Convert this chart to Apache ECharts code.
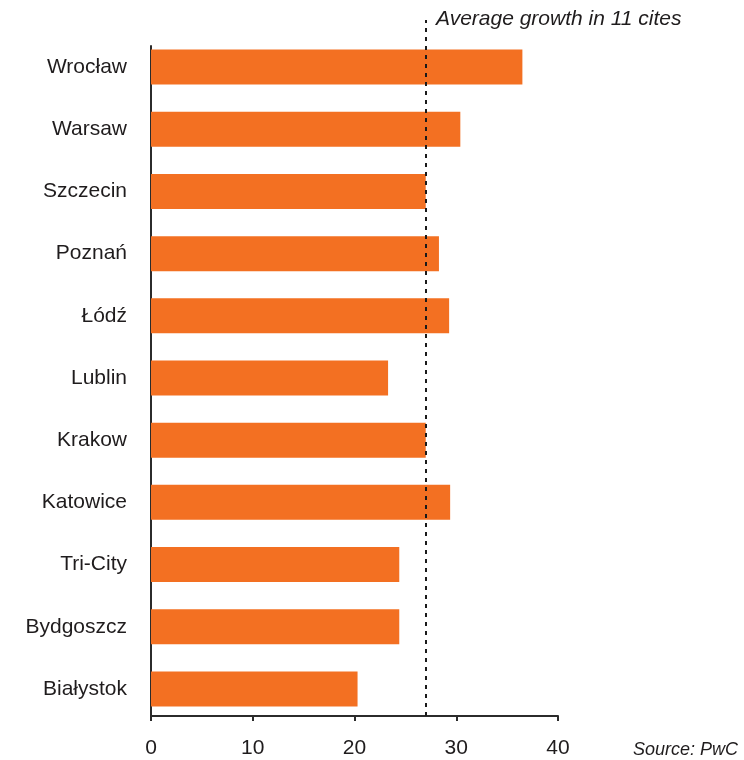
<!DOCTYPE html>
<html>
<head>
<meta charset="utf-8">
<script src="https://cdn.jsdelivr.net/npm/echarts@6/dist/echarts.min.js"></script>
<style>
  html, body { margin: 0; padding: 0; background: #fff; }
  #main { width: 744px; height: 760px; }
</style>
</head>
<body>
<div id="main"></div>
<script>
// growth by city
const cities = ['Wrocław', 'Warsaw', 'Szczecin', 'Poznań', 'Łódź', 'Lublin',
  'Krakow', 'Katowice', 'Tri-City', 'Bydgoszcz', 'Białystok']
const growth = [36.5, 30.4, 27.0, 28.3, 29.3, 23.3, 27.0, 29.4, 24.4, 24.4, 20.3]
const averageGrowth = 27.0
const xTicks = [0, 10, 20, 30, 40]

const FONT = '"Liberation Sans", Arial, Helvetica, sans-serif'
const TEXT = '#1f1c1d'
const AXIS = '#2b2b2b'
const ORANGE = '#f37022'

const chart = echarts.init(document.getElementById('main'))

const option = {
  animation: false,
  backgroundColor: '#fff',
  title: [
    {
      text: 'Average growth in 11 cites',
      left: 436,
      top: 9,
      padding: 0,
      textStyle: { fontFamily: FONT, fontSize: 21, fontStyle: 'italic', fontWeight: 'normal', color: TEXT }
    },
    {
      text: 'Source: PwC',
      right: 6,
      top: 741,
      padding: 0,
      textStyle: { fontFamily: FONT, fontSize: 18, fontStyle: 'italic', fontWeight: 'normal', color: TEXT }
    }
  ],
  grid: [
    // bars
    { left: 151, right: 186, top: 36, bottom: 40 },
    // axis frame
    { left: 151, right: 186, top: 46, bottom: 44 },
    // average line
    { left: 151, right: 186, top: 20, bottom: 44 }
  ],
  xAxis: [
    {
      gridIndex: 0, type: 'value', min: 0, max: 40,
      show: false
    },
    {
      gridIndex: 1, type: 'value',
      min: xTicks[0], max: xTicks[xTicks.length - 1], interval: 10,
      axisLine: { show: true, lineStyle: { color: AXIS, width: 2 } },
      axisTick: { show: true, length: 5, lineStyle: { color: AXIS, width: 2 } },
      axisLabel: { margin: 22, fontFamily: FONT, fontSize: 21, color: TEXT },
      splitLine: { show: false }
    },
    {
      gridIndex: 2, type: 'value', min: 0, max: 40,
      show: false
    }
  ],
  yAxis: [
    {
      gridIndex: 0, type: 'category', data: cities, inverse: true,
      axisLine: { show: false },
      axisTick: { show: false },
      axisLabel: { margin: 24, fontFamily: FONT, fontSize: 21, color: TEXT }
    },
    {
      gridIndex: 1, type: 'value', min: 0, max: 1,
      axisLine: { show: true, lineStyle: { color: AXIS, width: 2 } },
      axisTick: { show: false },
      axisLabel: { show: false },
      splitLine: { show: false }
    },
    {
      gridIndex: 2, type: 'value', min: 0, max: 1,
      show: false
    }
  ],
  series: [
    {
      type: 'bar',
      xAxisIndex: 0,
      yAxisIndex: 0,
      data: growth,
      barWidth: 35,
      itemStyle: { color: ORANGE },
      z: 2
    },
    {
      type: 'line',
      xAxisIndex: 2,
      yAxisIndex: 2,
      data: [],
      silent: true,
      markLine: {
        silent: true,
        symbol: ['none', 'none'],
        label: { show: false },
        lineStyle: { color: '#1a1a1a', width: 2, type: [4, 5] },
        data: [{ xAxis: averageGrowth }]
      },
      z: 5
    }
  ]
}

chart.setOption(option)
</script>
</body>
</html>
